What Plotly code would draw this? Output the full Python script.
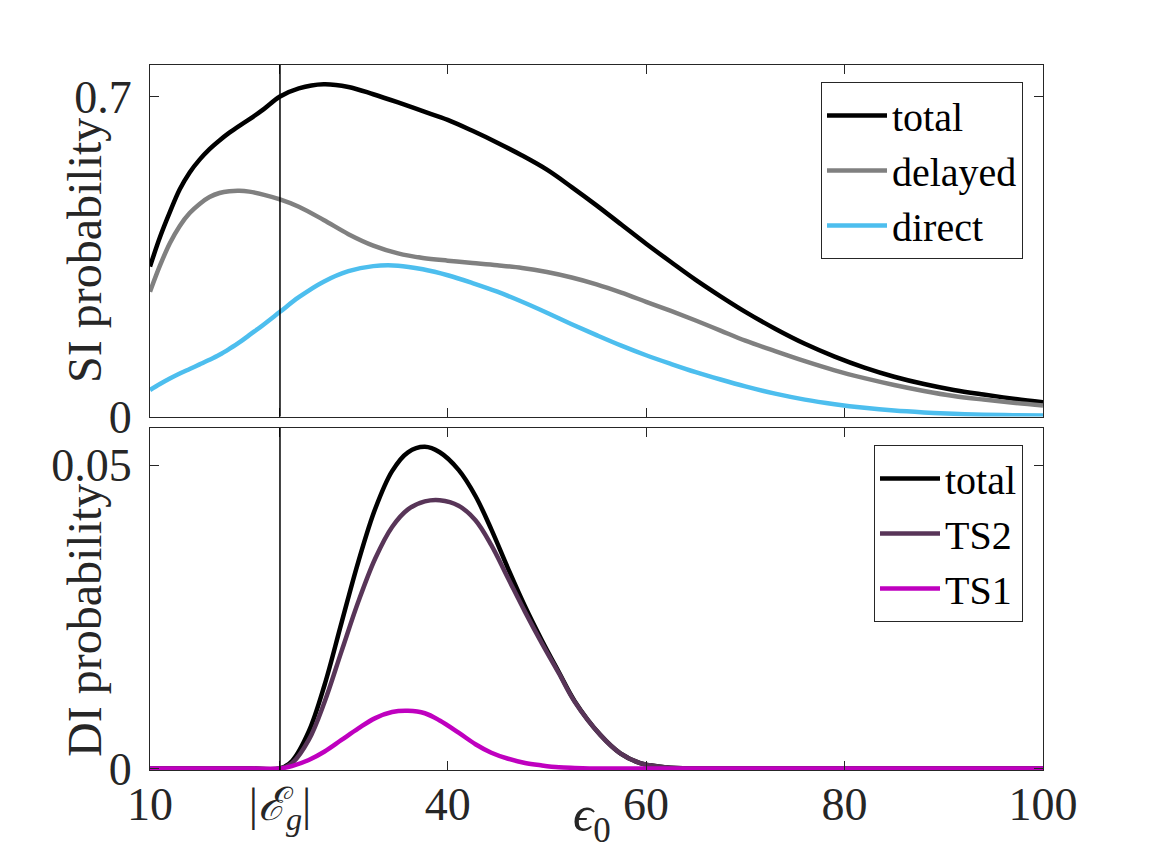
import plotly.graph_objects as go
from plotly.subplots import make_subplots

# ---------------- data ----------------
EG = 23.1  # |E_g| marker position on the energy axis

si_x = [10, 11, 12, 13, 14, 15, 16, 17, 18, 19, 20, 21.5, 23.1, 25, 27.5, 30, 32.5,
        35, 37.5, 40, 42.5, 45, 47.5, 50, 52.5, 55, 57.5, 60, 62.5, 65, 67.5, 70,
        73, 76, 79, 82, 85, 88, 91, 94, 97, 100]
si_total = [0.328, 0.392, 0.447, 0.497, 0.534, 0.562, 0.585, 0.604, 0.621, 0.636,
            0.650, 0.673, 0.700, 0.718, 0.727, 0.721, 0.705, 0.687, 0.668, 0.649,
            0.625, 0.599, 0.571, 0.540, 0.502, 0.462, 0.420, 0.378, 0.338, 0.299,
            0.263, 0.229, 0.192, 0.159, 0.131, 0.107, 0.087, 0.071, 0.058, 0.048,
            0.039, 0.031]
si_delayed = [0.273, 0.330, 0.379, 0.417, 0.445, 0.465, 0.480, 0.489, 0.493, 0.494,
              0.492, 0.485, 0.475, 0.459, 0.430, 0.399, 0.374, 0.357, 0.347, 0.341,
              0.336, 0.331, 0.325, 0.316, 0.304, 0.289, 0.271, 0.251, 0.231, 0.210,
              0.188, 0.166, 0.143, 0.121, 0.101, 0.084, 0.069, 0.056, 0.045, 0.037,
              0.030, 0.024]
si_direct = [0.058, 0.071, 0.083, 0.094, 0.104, 0.114, 0.124, 0.135, 0.148, 0.162,
             0.178, 0.202, 0.229, 0.261, 0.295, 0.318, 0.329, 0.330, 0.322, 0.309,
             0.292, 0.273, 0.251, 0.227, 0.202, 0.178, 0.155, 0.134, 0.115, 0.097,
             0.081, 0.066, 0.050, 0.037, 0.027, 0.019, 0.013, 0.009, 0.006, 0.004,
             0.003, 0.002]

di_x = [10, 15, 20, 23.1, 24.3, 26, 27.6, 29.3, 31, 32.7, 34.4, 36, 37.7, 39.2, 41.1,
        42.8, 44.4, 46.1, 47.8, 49.5, 51.2, 52.8, 55.4, 57.4, 59.4, 62, 65, 70, 80,
        90, 100]
di_total = [0, 0, 0, 0, 0.0012, 0.0061, 0.0138, 0.0240, 0.0341, 0.0428, 0.0490,
            0.0521, 0.0530, 0.0521, 0.0492, 0.0449, 0.0394, 0.0329, 0.0267, 0.0211,
            0.0159, 0.0111, 0.0055, 0.0025, 0.0009, 0.0002, 0, 0, 0, 0, 0]
di_ts2 = [0, 0, 0, 0, 0.00085, 0.0047, 0.0110, 0.0193, 0.0275, 0.0346, 0.0398,
          0.0427, 0.0440, 0.0442, 0.0433, 0.0409, 0.0368, 0.0313, 0.0258, 0.0206,
          0.0157, 0.0110, 0.0055, 0.0025, 0.0009, 0.0002, 0, 0, 0, 0, 0]
di_ts1 = [0, 0, 0, 0, 0.0004, 0.0014, 0.0028, 0.0047, 0.0066, 0.0083, 0.0093,
          0.0095, 0.0091, 0.0079, 0.0059, 0.0040, 0.0026, 0.0016, 0.0009, 0.0005,
          0.0002, 0.0001, 0, 0, 0, 0, 0, 0, 0, 0, 0]

x_tick_vals = [10, EG, 40, 60, 80, 100]
x_tick_text = ["10", "|<i>ℰ</i><sub><i>g</i></sub>|", "40", "60", "80", "100"]

# ---------------- style ----------------
FONT = "Liberation Serif, Times New Roman, DejaVu Serif, serif"
AX = "#262626"
LW = 4.5
C_TOTAL = "black"
C_DELAYED = "#808080"
C_DIRECT = "#4DBEEE"
C_TS2 = "#583558"
C_TS1 = "#BF00BF"

fig = make_subplots(rows=2, cols=1, shared_xaxes=True, vertical_spacing=0.02)

for name, ys, col in [("total", si_total, C_TOTAL),
                      ("delayed", si_delayed, C_DELAYED),
                      ("direct", si_direct, C_DIRECT)]:
    fig.add_trace(go.Scatter(x=si_x, y=ys, name=name, mode="lines",
                             line=dict(color=col, width=LW, shape="spline", smoothing=1.0),
                             legend="legend"), row=1, col=1)

for name, ys, col in [("total", di_total, C_TOTAL),
                      ("TS2", di_ts2, C_TS2),
                      ("TS1", di_ts1, C_TS1)]:
    fig.add_trace(go.Scatter(x=di_x, y=ys, name=name, mode="lines",
                             line=dict(color=col, width=LW, shape="spline", smoothing=1.0),
                             legend="legend2"), row=2, col=1)

# |E_g| reference line in both panels
fig.add_shape(type="line", xref="x", yref="y domain", x0=EG, x1=EG, y0=0, y1=1,
              line=dict(color="black", width=1.5))
fig.add_shape(type="line", xref="x2", yref="y2 domain", x0=EG, x1=EG, y0=0, y1=1,
              line=dict(color="black", width=1.5))

axis_common = dict(showline=True, linecolor=AX, linewidth=1, mirror="ticks",
                   ticks="inside", ticklen=9, tickcolor=AX, tickwidth=1,
                   showgrid=False, zeroline=False,
                   tickfont=dict(family=FONT, size=46, color=AX))

fig.update_xaxes(**axis_common, range=[10, 100], tickmode="array",
                 tickvals=x_tick_vals, ticktext=x_tick_text)
fig.update_xaxes(showticklabels=False, row=1, col=1)
fig.update_xaxes(ticklabelstandoff=-6, row=2, col=1)

fig.update_yaxes(**axis_common)
fig.update_yaxes(range=[0, 0.769], tickmode="array", tickvals=[0, 0.7],
                 ticktext=["0", "0.7"], ticklabelstandoff=8, row=1, col=1)
fig.update_yaxes(range=[-0.00025, 0.0561], tickmode="array", tickvals=[0, 0.05],
                 ticktext=["0", "0.05"], ticklabelstandoff=8, row=2, col=1)

legend_common = dict(xanchor="right", yanchor="top",
                     bordercolor=AX, borderwidth=1, bgcolor="white",
                     font=dict(family=FONT, size=40, color="black"),
                     itemwidth=60, tracegroupgap=0)

fig.update_layout(
    width=1152, height=864,
    margin=dict(l=150, r=109, t=65, b=94),
    paper_bgcolor="white", plot_bgcolor="white",
    font=dict(family=FONT, color=AX),
    xaxis=dict(domain=[0, 1]),
    xaxis2=dict(domain=[0, 1]),
    yaxis=dict(domain=[0.5014, 1]),
    yaxis2=dict(domain=[0, 0.4851]),
    legend=dict(x=0.9776, y=0.976, **legend_common),
    legend2=dict(x=0.9776, y=0.461, **legend_common),
    annotations=[
        dict(text="SI probability", xref="paper", yref="paper", x=-0.0728, y=0.7376,
             xanchor="center", yanchor="middle", textangle=-90, showarrow=False,
             font=dict(family=FONT, size=48, color=AX)),
        dict(text="DI probability", xref="paper", yref="paper", x=-0.0728, y=0.2128,
             xanchor="center", yanchor="middle", textangle=-90, showarrow=False,
             font=dict(family=FONT, size=48, color=AX)),
        dict(text="<i>ϵ</i><sub>0</sub>", xref="paper", yref="paper", x=0.495, y=-0.068,
             xanchor="center", yanchor="middle", showarrow=False,
             font=dict(family=FONT, size=50, color=AX)),
    ],
)

fig.write_html("out.html")
